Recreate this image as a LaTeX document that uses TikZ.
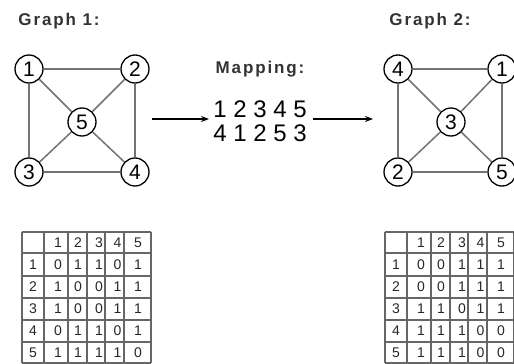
\documentclass[tikz,border=0pt]{standalone}
\usepackage{fontspec}
\setsansfont{Liberation Sans}
\newfontfamily\titlefont[LetterSpace=11]{Liberation Sans}
\usetikzlibrary{arrows.meta}

\begin{document}
\begin{tikzpicture}[x=1pt,y=-1pt,
  gnode/.style={circle,draw=black,line width=1.3pt,fill=white,minimum size=28pt,
    inner sep=0pt,font=\sffamily\fontsize{21}{21}\selectfont},
  edge/.style={draw=black!55,line width=1.5pt},
  title/.style={anchor=base,inner sep=0pt,text=black!80,
    font=\titlefont\bfseries\fontsize{17}{17}\selectfont},
  maptext/.style={inner sep=0pt,font=\sffamily\fontsize{24}{24}\selectfont},
  arr/.style={-{Stealth[length=8pt,width=6pt]},line width=1.4pt},
  gridline/.style={draw=black!60,line width=1.6pt},
  cell/.style={inner sep=0pt,text=black!85,font=\sffamily\fontsize{14}{14}\selectfont}
]
\useasboundingbox (0,0) rectangle (514,364);

% titles
\node[title] (t1) at (59,25) {Graph 1:};
\node[title] (t2) at (430,25) {Graph 2:};
\node[title] (tm) at (260,73) {Mapping:};

% graph 1
\node[gnode] (a1) at (29,69) {1};
\node[gnode] (a2) at (135,69) {2};
\node[gnode] (a5) at (82,122) {5};
\node[gnode] (a3) at (29,172) {3};
\node[gnode] (a4) at (135,172) {4};
\foreach \u/\v in {a1/a2,a1/a3,a2/a4,a3/a4,a1/a5,a2/a5,a3/a5,a4/a5}
  \draw[edge] (\u) -- (\v);

% graph 2
\node[gnode] (b4) at (398,69) {4};
\node[gnode] (b1) at (502,69) {1};
\node[gnode] (b3) at (451,122) {3};
\node[gnode] (b2) at (398,172) {2};
\node[gnode] (b5) at (502,172) {5};
\foreach \u/\v in {b4/b1,b4/b2,b1/b5,b2/b5,b4/b3,b1/b3,b2/b3,b5/b3}
  \draw[edge] (\u) -- (\v);

% mapping
\node[maptext] (m1) at (260,109) {1 2 3 4 5};
\node[maptext] (m2) at (260,133) {4 1 2 5 3};
\coordinate (p1) at (152,119);
\coordinate (p2) at (209,119);
\coordinate (p3) at (313,119);
\coordinate (p4) at (373,119);
\draw[arr] (p1) -- (p2);
\draw[arr] (p3) -- (p4);

% adjacency tables
\foreach \pre/\xo/\rows in {
  L/22/{1/264.5/{0,1,1,0,1},2/287/{1,0,0,1,1},3/309/{1,0,0,1,1},4/331/{0,1,1,0,1},5/352.5/{1,1,1,1,0}},
  R/385/{1/264.5/{0,0,1,1,1},2/287/{0,0,1,1,1},3/309/{1,1,0,1,1},4/331/{1,1,1,0,0},5/352.5/{1,1,1,0,0}}}{
  \begin{scope}[shift={(\xo,0)}]
    \foreach \x in {0,22,46,65,83,102,129}
      \draw[gridline] (\x,232) -- (\x,363);
    \foreach \y in {232,253,276,298,320,342,363}
      \draw[gridline] (0,\y) -- (129,\y);
    \foreach \c/\x in {1/36,2/56,3/77,4/95.5,5/116}
      \node[cell] (\pre-h\c) at (\x,242.5) {\c};
    \foreach \r/\y/\vals in \rows {
      \node[cell] (\pre-r\r) at (11,\y) {\r};
      \foreach \v [count=\c] in \vals {
        \pgfmathsetmacro{\cx}{{0,36,56,77,95.5,116}[\c]}
        \node[cell] (\pre-\r-\c) at (\cx,\y) {\v};
      }
    }
  \end{scope}
}
\end{tikzpicture}
\end{document}
